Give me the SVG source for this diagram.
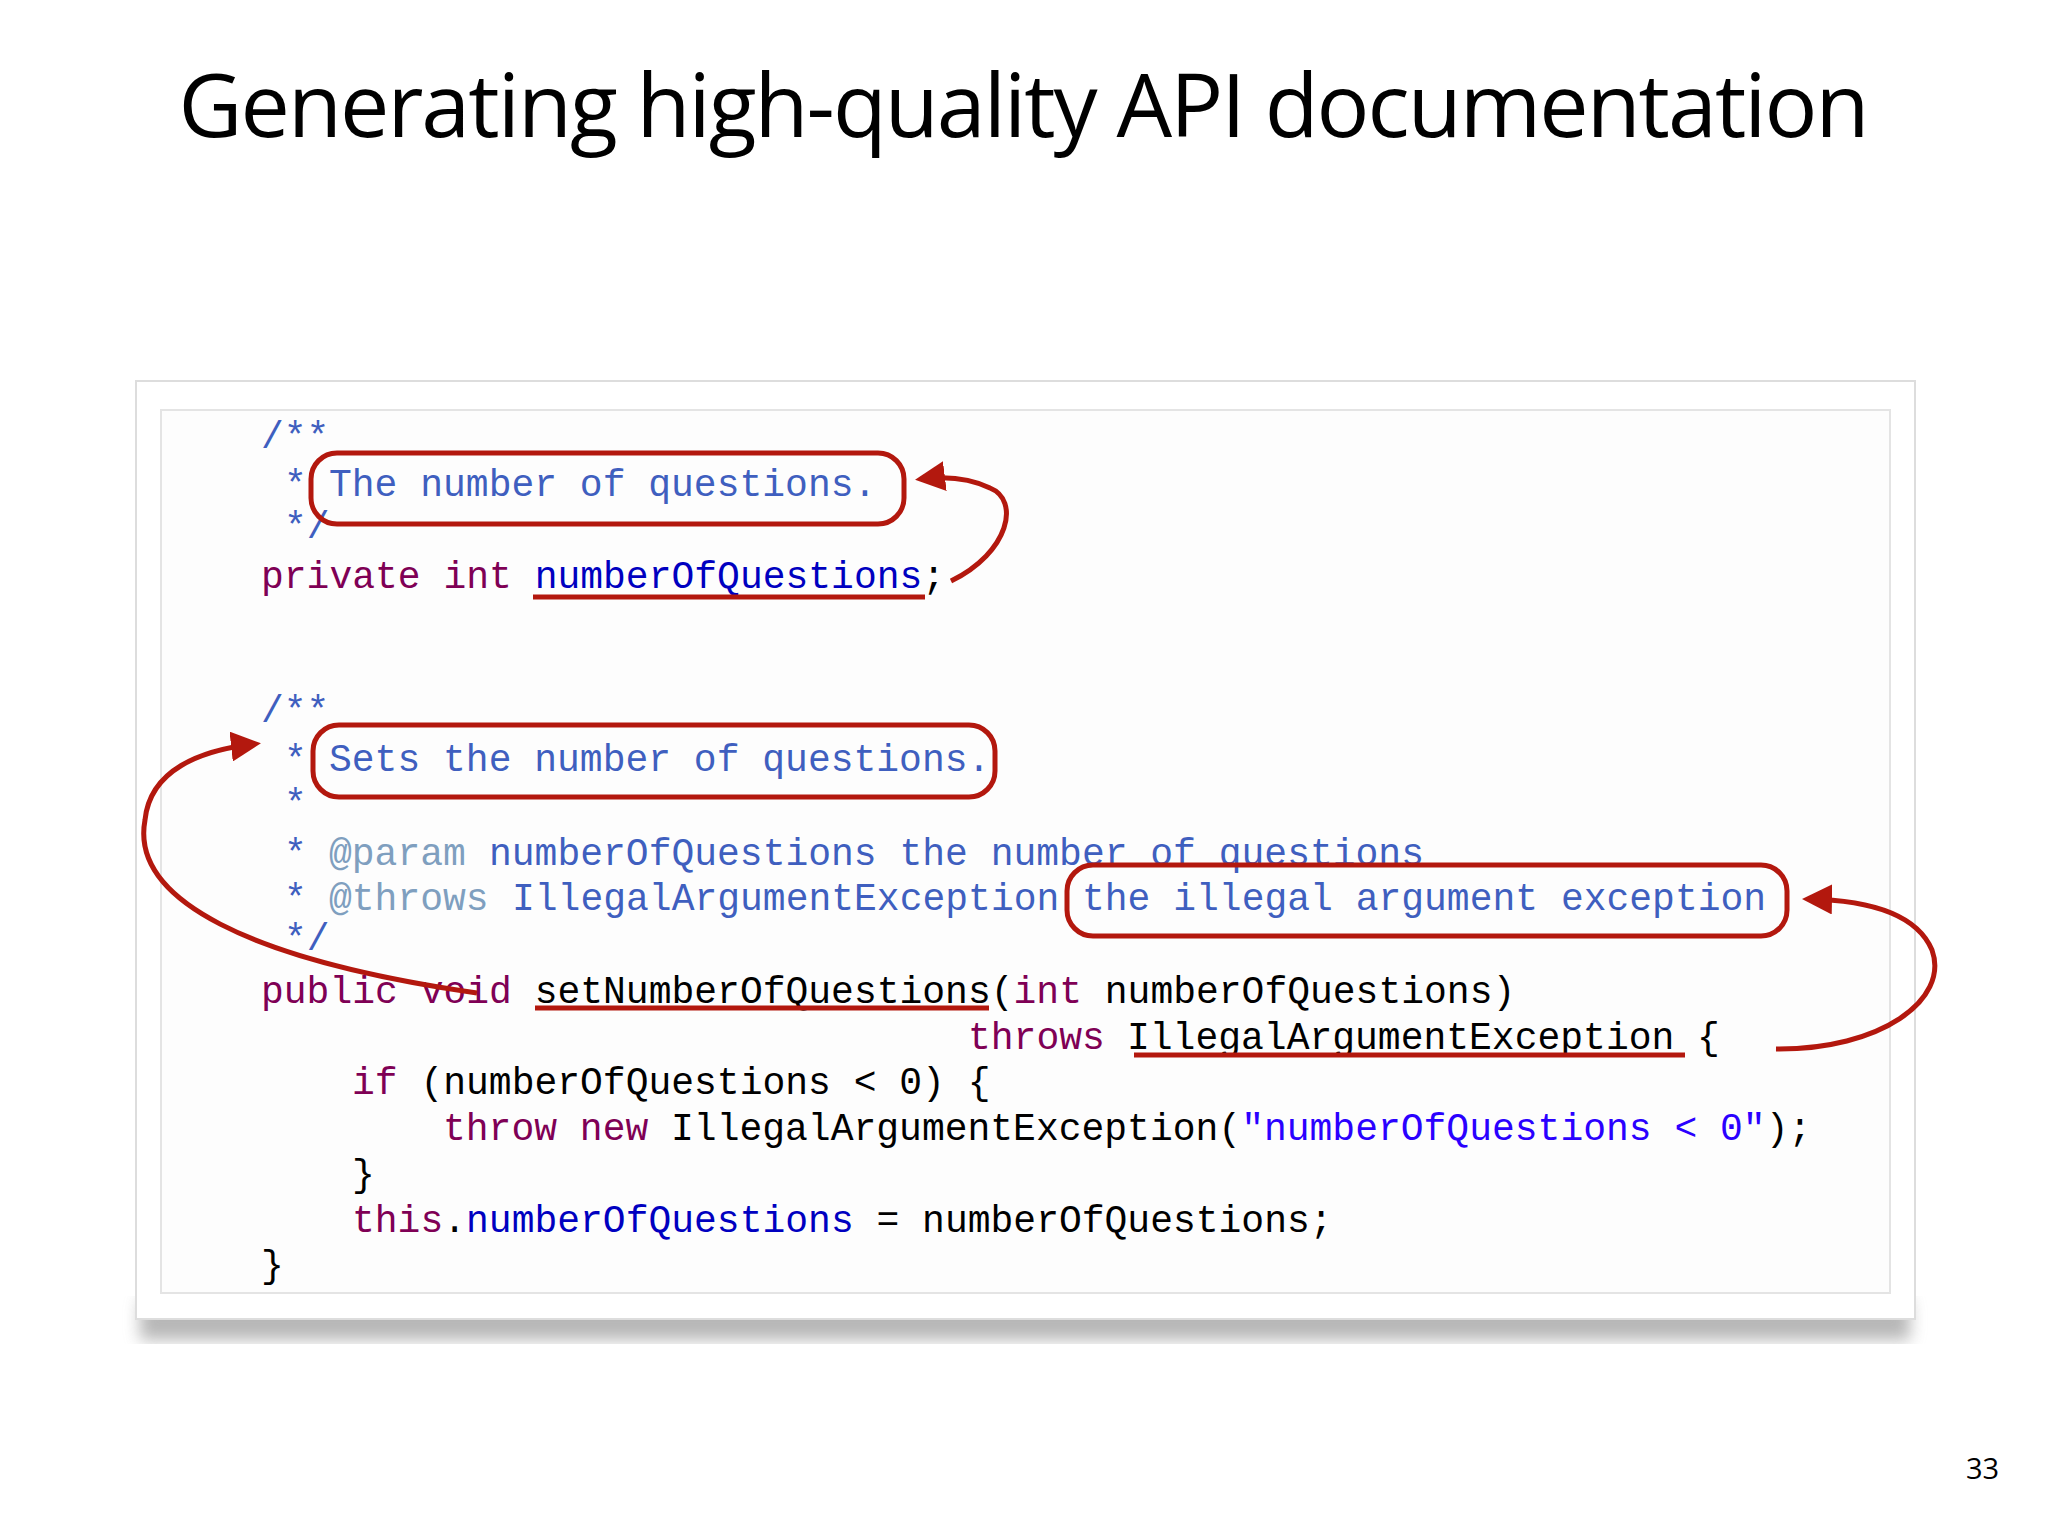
<svg xmlns="http://www.w3.org/2000/svg" width="2048" height="1536" viewBox="0 0 2048 1536">
<defs>
<style>
.code{font-family:"Liberation Mono","Courier New",monospace;font-size:38px}
.kw{fill:#7f0055}.cm{fill:#3f5fbf}.tag{fill:#7f9fbf}.fd{fill:#0000c0}.st{fill:#2a00ff}.tx{fill:#000}
.red{fill:none;stroke:#b3180e;stroke-width:5}
</style>
<marker id="ah" viewBox="0 0 10 10" refX="8" refY="5" markerWidth="6" markerHeight="6" orient="auto"><path d="M0,0 L10,5 L0,10 z" fill="#b3180e"/></marker>
<filter id="blur"><feGaussianBlur stdDeviation="8"/></filter>
</defs>
<rect width="2048" height="1536" fill="#fff"/>
<text x="1024" y="137" text-anchor="middle" font-family="Open Sans, Liberation Sans, sans-serif" font-size="88" textLength="1691" fill="#000">Generating high-quality API documentation</text>
<g id="card">
<rect x="140" y="1300" width="1770" height="40" fill="#888" opacity="0.6" filter="url(#blur)"/>
<rect x="136" y="381" width="1779" height="938" fill="#fff" stroke="#ddd" stroke-width="2"/>
<rect x="161" y="410" width="1729" height="883" fill="#fdfdfd" stroke="#e4e4e4" stroke-width="2"/>
</g>
<g id="code" class="code">
<text x="261" y="448" class="cm">/**</text>
<text y="496" class="cm"><tspan x="284">*</tspan><tspan x="329">The number of questions.</tspan></text>
<text x="284" y="538" class="cm">*/</text>
<text x="261" y="588"><tspan class="kw">private int </tspan><tspan class="fd">numberOfQuestions</tspan><tspan class="tx">;</tspan></text>
<text x="261" y="722" class="cm">/**</text>
<text y="771" class="cm"><tspan x="284">*</tspan><tspan x="329">Sets the number of questions.</tspan></text>
<text x="284" y="815" class="cm">*</text>
<text y="865"><tspan x="284" class="cm">*</tspan><tspan x="329" class="tag">@param</tspan><tspan x="489" class="cm">numberOfQuestions the number of questions</tspan></text>
<text y="910"><tspan x="284" class="cm">*</tspan><tspan x="329" class="tag">@throws</tspan><tspan x="512" class="cm">IllegalArgumentException</tspan><tspan x="1082" class="cm">the illegal argument exception</tspan></text>
<text x="284" y="950" class="cm">*/</text>
<text x="261" y="1003"><tspan class="kw">public void </tspan><tspan class="tx">setNumberOfQuestions(</tspan><tspan class="kw">int</tspan><tspan class="tx"> numberOfQuestions)</tspan></text>
<text y="1049"><tspan x="968" class="kw">throws</tspan><tspan x="1127" class="tx">IllegalArgumentException {</tspan></text>
<text x="352" y="1094"><tspan class="kw">if</tspan><tspan class="tx"> (numberOfQuestions &lt; 0) {</tspan></text>
<text x="443" y="1140"><tspan class="kw">throw new</tspan><tspan class="tx"> IllegalArgumentException(</tspan><tspan class="st">"numberOfQuestions &lt; 0"</tspan><tspan class="tx">);</tspan></text>
<text x="352" y="1186" class="tx">}</text>
<text x="352" y="1232"><tspan class="kw">this</tspan><tspan class="tx">.</tspan><tspan class="fd">numberOfQuestions</tspan><tspan class="tx"> = numberOfQuestions;</tspan></text>
<text x="261" y="1277" class="tx">}</text>
</g>
<g id="annotations">
<rect class="red" x="311" y="453" width="593" height="71" rx="26"/>
<rect class="red" x="313" y="725" width="682" height="72" rx="26"/>
<rect class="red" x="1067" y="865" width="720" height="71" rx="26"/>
<line class="red" x1="533" y1="597" x2="925" y2="597"/>
<line class="red" x1="535" y1="1008" x2="989" y2="1008"/>
<line class="red" x1="1134" y1="1055" x2="1685" y2="1055"/>
</g>
<g id="connectors">
<path class="red" marker-end="url(#ah)" d="M951,581 C1010,552 1020,500 990,488 C970,478 945,476 921,479"/>
<path class="red" marker-end="url(#ah)" d="M477,993 C250,960 130,900 145,820 C150,770 200,750 255,744"/>
<path class="red" marker-end="url(#ah)" d="M1776,1049 C1880,1050 1950,1000 1932,950 C1915,910 1860,900 1808,899"/>
</g>
<text x="1966" y="1479" font-family="Open Sans, Liberation Sans, sans-serif" font-size="29" fill="#000">33</text>
</svg>
